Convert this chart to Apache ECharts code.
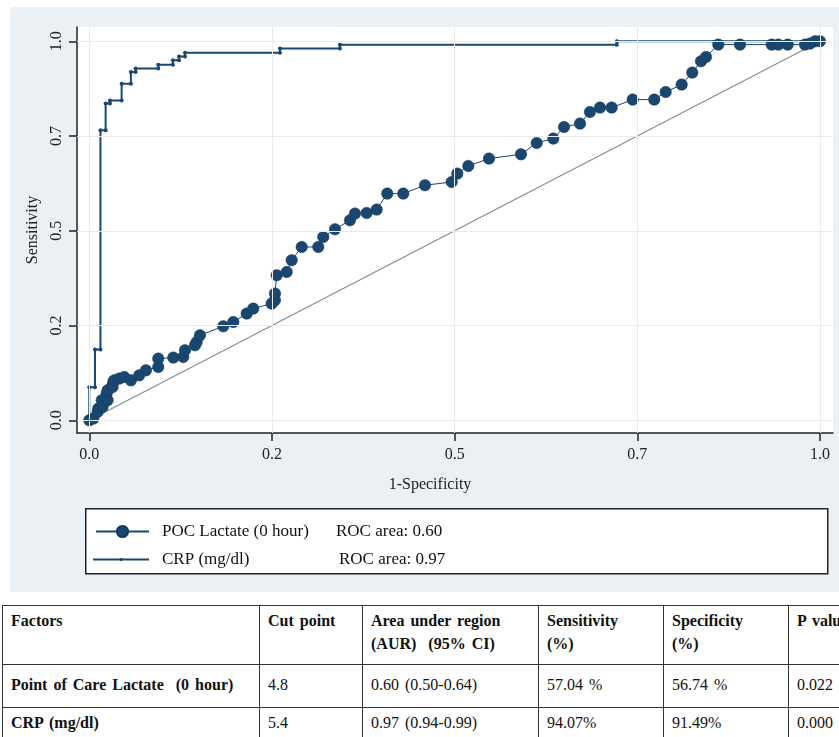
<!DOCTYPE html>
<html><head><meta charset="utf-8">
<script src="https://cdn.jsdelivr.net/npm/echarts@6/dist/echarts.min.js"></script>
<style>
html,body{margin:0;padding:0;background:#fff;width:839px;height:737px;overflow:hidden;position:relative}
#chart{position:absolute;left:10px;top:7px;width:829px;height:585px;}
table{position:absolute;left:2px;top:605px;border-collapse:collapse;table-layout:fixed;width:911px}
td{font-family:'Liberation Serif','Times New Roman',serif;font-size:16px;color:#111;border:1.5px solid #333;vertical-align:top;padding:3px 8px;word-spacing:2px;line-height:23px;white-space:nowrap;overflow:hidden}
tr.h td{font-weight:bold;height:52px}
tr.r1 td{height:31px;padding-top:8px}
tr.r2 td{height:40px}
td.f{font-weight:bold}
</style></head>
<body>
<div id="chart"></div>
<table id="tbl"><colgroup><col style="width:257px"><col style="width:103px"><col style="width:176px"><col style="width:125px"><col style="width:125px"><col style="width:125px"></colgroup><tbody id="tb"></tbody></table>
<script>
// ---- data ----
const xTickValues = [0, 0.25, 0.5, 0.75, 1];
const xTickLabels = ['0.0', '0.2', '0.5', '0.7', '1.0'];
const yTickValues = [0, 0.25, 0.5, 0.75, 1];
const yTickLabels = ['0.0', '0.2', '0.5', '0.7', '1.0'];

const seriesNames = ['POC Lactate (0 hour)', 'CRP (mg/dl)'];
const rocAreas = ['0.60', '0.97'];

// POC Lactate ROC points (1-specificity, sensitivity)
const lactateX = [0, 0.0055, 0.0123, 0.0170, 0.0238, 0.0307, 0.0328, 0.0114, 0.0182, 0.0251, 0.0251, 0.0319, 0.0342, 0.0411, 0.0479, 0.0570, 0.0684, 0.0776, 0.0944, 0.0944, 0.1150, 0.1286, 0.1310, 0.1447, 0.1470, 0.1515, 0.1834, 0.1971, 0.2154, 0.2244, 0.2496, 0.2541, 0.2541, 0.2565, 0.2702, 0.2770, 0.2907, 0.3134, 0.3202, 0.3363, 0.3568, 0.3636, 0.3796, 0.3933, 0.4078, 0.4297, 0.4594, 0.4960, 0.5036, 0.5187, 0.5470, 0.5908, 0.6123, 0.6350, 0.6497, 0.6716, 0.6852, 0.6989, 0.7149, 0.7437, 0.7732, 0.7888, 0.8107, 0.8252, 0.8371, 0.8440, 0.8608, 0.8905, 0.9339, 0.9429, 0.9558, 0.9795, 0.9863, 0.9932, 1];
const lactateY = [0, 0.0045, 0.0309, 0.0528, 0.0704, 0.0879, 0.1011, 0.0220, 0.0352, 0.0528, 0.0792, 0.0880, 0.1055, 0.1101, 0.1143, 0.1055, 0.1187, 0.1319, 0.1406, 0.1628, 0.1654, 0.1670, 0.1847, 0.1979, 0.2066, 0.2243, 0.2480, 0.2594, 0.2815, 0.2947, 0.3079, 0.3166, 0.3343, 0.3826, 0.3913, 0.4222, 0.4573, 0.4573, 0.4836, 0.5040, 0.5277, 0.5454, 0.5470, 0.5559, 0.5982, 0.5982, 0.6201, 0.6288, 0.6509, 0.6710, 0.6905, 0.7018, 0.7317, 0.7433, 0.7739, 0.7828, 0.8135, 0.8251, 0.8251, 0.8462, 0.8462, 0.8662, 0.8858, 0.9174, 0.9472, 0.9586, 0.9913, 0.9913, 0.9913, 0.9913, 0.9913, 0.9913, 0.9939, 1.0, 1];

// CRP ROC points (1-specificity, sensitivity)
const crpX = [0, 0, 0.0078, 0.0078, 0.0153, 0.0153, 0.0224, 0.0224, 0.0283, 0.0283, 0.0443, 0.0443, 0.0570, 0.0570, 0.0635, 0.0635, 0.0944, 0.0944, 0.1145, 0.1145, 0.1228, 0.1228, 0.1310, 0.1310, 0.2610, 0.2610, 0.3430, 0.3430, 0.7220, 0.7220, 1];
const crpY = [0, 0.087, 0.087, 0.187, 0.187, 0.765, 0.765, 0.836, 0.836, 0.844, 0.844, 0.888, 0.888, 0.919, 0.919, 0.928, 0.928, 0.938, 0.938, 0.950, 0.950, 0.960, 0.960, 0.970, 0.970, 0.981, 0.981, 0.991, 0.991, 1.0, 1];

const refX = [0, 1];
const refY = [0, 1];

// table
const tableHeader = ['Factors', 'Cut point', 'Area under region<br>(AUR)&nbsp; (95% CI)', 'Sensitivity<br>(%)', 'Specificity<br>(%)', 'P value'];
const factors = ['Point of Care Lactate&nbsp; (0 hour)', 'CRP (mg/dl)'];
const cutPoints = ['4.8', '5.4'];
const aurValues = ['0.60 (0.50-0.64)', '0.97 (0.94-0.99)'];
const sensValues = ['57.04 %', '94.07%'];
const specValues = ['56.74 %', '91.49%'];
const pValues = ['0.022', '0.000'];

// ---- build table ----
const tb = document.getElementById('tb');
let html = '<tr class="h">' + tableHeader.map(h => '<td>' + h + '</td>').join('') + '</tr>';
factors.forEach((f, i) => {
  html += '<tr class="r' + (i + 1) + '"><td class="f">' + f + '</td><td>' + cutPoints[i] + '</td><td>' + aurValues[i] + '</td><td>' + sensValues[i] + '</td><td>' + specValues[i] + '</td><td>' + pValues[i] + '</td></tr>';
});
tb.innerHTML = html;

// ---- chart ----
const FONT = "'Liberation Serif', 'Times New Roman', serif";
const NAVY = '#1a476f';
const zip = (a, b) => a.map((v, i) => [v, b[i]]);
const lab = (vals, labels) => v => {
  const i = vals.findIndex(t => Math.abs(t - v) < 1e-6);
  return i >= 0 ? labels[i] : '';
};
const gridLines = xTickValues.map(v => ({xAxis: v})).concat(yTickValues.map(v => ({yAxis: v})));

const chart = echarts.init(document.getElementById('chart'), null, {renderer: 'canvas'});
chart.setOption({
  animation: false,
  backgroundColor: '#eaf0f3',
  grid: {left: 67, right: 6, top: 20, bottom: 159, show: true, backgroundColor: '#ffffff', borderWidth: 0},
  xAxis: {
    type: 'value', min: -0.0168, max: 1.0178,
    axisLine: {show: true, onZero: false, lineStyle: {color: '#222', width: 1.5}},
    axisTick: {show: true, customValues: xTickValues, length: 8, lineStyle: {color: '#222', width: 1.5}},
    axisLabel: {customValues: xTickValues, formatter: lab(xTickValues, xTickLabels), margin: 14, fontFamily: FONT, fontSize: 16, color: '#222'},
    splitLine: {show: false},
    name: '1-Specificity', nameLocation: 'middle', nameGap: 44,
    nameTextStyle: {fontFamily: FONT, fontSize: 16, color: '#222', padding: [0, 50, 0, 0]}
  },
  yAxis: {
    type: 'value', min: -0.0335, max: 1.0377,
    axisLine: {show: true, onZero: false, lineStyle: {color: '#222', width: 1.5}},
    axisTick: {show: true, customValues: yTickValues, length: 8, lineStyle: {color: '#222', width: 1.5}},
    axisLabel: {customValues: yTickValues, formatter: lab(yTickValues, yTickLabels), rotate: 90, margin: 12, fontFamily: FONT, fontSize: 16, color: '#222'},
    splitLine: {show: false},
    name: 'Sensitivity', nameLocation: 'middle', nameGap: 36, nameRotate: 90,
    nameTextStyle: {fontFamily: FONT, fontSize: 16, color: '#222'}
  },
  legend: [
    {
      data: [seriesNames[0]], orient: 'vertical', left: 85, top: 516, padding: 0,
      itemWidth: 53, itemHeight: 14,
      formatter: n => '{p| }{n|' + n + '}{a|ROC area: ' + rocAreas[0] + '}',
      textStyle: {fontFamily: FONT, fontSize: 17, color: '#111', rich: {p: {width: 8}, n: {width: 174, fontFamily: FONT, fontSize: 17}, a: {fontFamily: FONT, fontSize: 17}}},
      selectedMode: false
    },
    {
      data: [seriesNames[1]], orient: 'vertical', left: 82, top: 544, padding: 0,
      itemWidth: 56, itemHeight: 4,
      formatter: n => '{p| }{n|' + n + '}{a|ROC area: ' + rocAreas[1] + '}',
      textStyle: {fontFamily: FONT, fontSize: 17, color: '#111', rich: {p: {width: 8}, n: {width: 177, fontFamily: FONT, fontSize: 17}, a: {fontFamily: FONT, fontSize: 17}}},
      selectedMode: false
    }
  ],
  graphic: [
    {type: 'rect', left: 75, top: 501, z: -1, shape: {width: 742, height: 65}, style: {fill: '#fff', stroke: '#222', lineWidth: 1.5}}
  ],
  series: [
    {
      name: 'Reference', type: 'line', data: zip(refX, refY), showSymbol: false, z: 1,
      lineStyle: {color: '#7b948a', width: 1.2}, silent: true,
      markLine: {
        silent: true, symbol: 'none', label: {show: false}, animation: false,
        lineStyle: {color: '#ebebeb', width: 1, type: 'solid'},
        emphasis: {disabled: true},
        data: gridLines
      }
    },
    {
      name: seriesNames[0], type: 'line', data: zip(lactateX, lactateY), z: 3,
      symbol: 'circle', symbolSize: 11.5, showAllSymbol: true,
      itemStyle: {color: NAVY, borderColor: '#143a5c', borderWidth: 0.5},
      lineStyle: {color: NAVY, width: 1}
    },
    {
      name: seriesNames[1], type: 'line', data: zip(crpX, crpY), z: 2,
      symbol: 'circle', symbolSize: 4, showAllSymbol: true,
      itemStyle: {color: NAVY},
      lineStyle: {color: NAVY, width: 2}
    }
  ]
});
</script>
</body></html>
